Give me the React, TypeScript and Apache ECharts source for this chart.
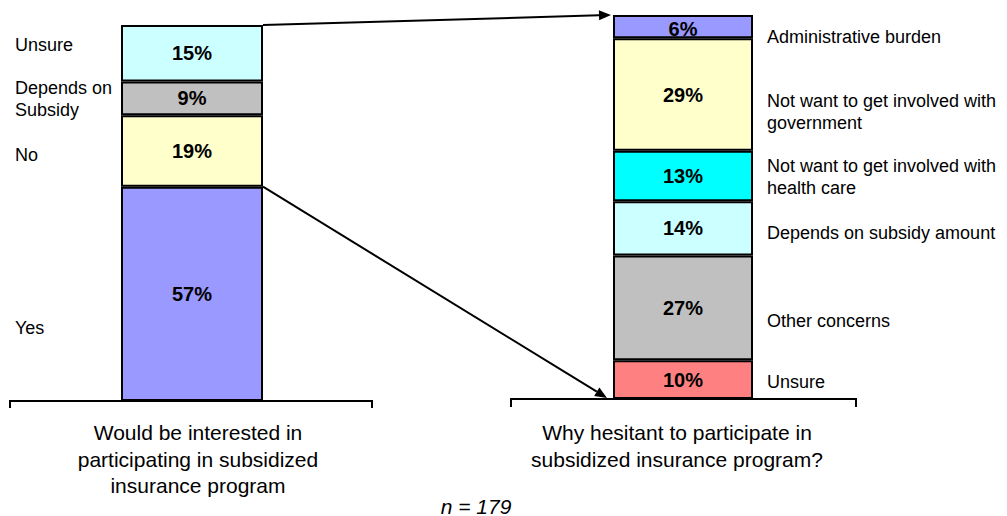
import React, { useEffect, useRef } from "react";
import * as echarts from "echarts";

// Left bar (bottom → top)
const leftNames = ["Yes", "No", "Depends on Subsidy", "Unsure"];
const leftValues = [57, 19, 9, 15];
const leftColors = ["#9999FF", "#FFFFCC", "#C0C0C0", "#CCFFFF"];

// Right bar (bottom → top)
const rightNames = [
  "Unsure",
  "Other concerns",
  "Depends on subsidy amount",
  "Not want to get involved with\nhealth care",
  "Not want to get involved with\ngovernment",
  "Administrative burden",
];
const rightValues = [10, 27, 14, 13, 29, 6];
const rightColors = ["#FF8080", "#C0C0C0", "#CCFFFF", "#00FFFF", "#FFFFCC", "#9999FF"];

const leftTitle = "Would be interested in\nparticipating in subsidized\ninsurance program";
const rightTitle = "Why hesitant to participate in\nsubsidized insurance program?";
const noteText = "n = 179";

const FONT = "Liberation Sans, Arial, Helvetica, sans-serif";

export default function App() {
  const ref = useRef<HTMLDivElement>(null);
  useEffect(() => {
    if (!ref.current) return;
    const chart = echarts.init(ref.current, undefined, { renderer: "svg" });
    const G0 = { left: 121, top: 25, width: 142, height: 376 };
    const G1 = { left: 613, top: 15, width: 140, height: 384 };
    const leftTotal = leftValues.reduce((a, b) => a + b, 0);
    const rightTotal = rightValues.reduce((a, b) => a + b, 0);

    const labelStyle = {
      show: true,
      position: "inside",
      formatter: "{c}%",
      fontFamily: FONT,
      fontWeight: "bold",
      fontSize: 20,
      color: "#000",
    };

    const series: any[] = [];
    leftValues.forEach((v, i) => {
      series.push({
        type: "bar",
        name: leftNames[i],
        stack: "L",
        xAxisIndex: 0,
        yAxisIndex: 0,
        barWidth: "100%",
        data: [v],
        itemStyle: { color: leftColors[i], borderColor: "#000", borderWidth: 2 },
        label: labelStyle,
      });
    });
    rightValues.forEach((v, i) => {
      series.push({
        type: "bar",
        name: rightNames[i],
        stack: "R",
        xAxisIndex: 1,
        yAxisIndex: 1,
        barWidth: "100%",
        data: [v],
        itemStyle: { color: rightColors[i], borderColor: "#000", borderWidth: 2 },
        label: i === rightValues.length - 1 ? { ...labelStyle, offset: [0, 2] } : labelStyle,
      });
    });

    chart.setOption({
      animation: false,
      grid: [G0, G1],
      xAxis: [
        { type: "category", data: ["L"], gridIndex: 0, show: false },
        { type: "category", data: ["R"], gridIndex: 1, show: false },
      ],
      yAxis: [
        { type: "value", min: 0, max: leftTotal, gridIndex: 0, show: false },
        { type: "value", min: 0, max: rightTotal, gridIndex: 1, show: false },
      ],
      series,
    });

    // annotations
    const yL = (v: number) => chart.convertToPixel({ yAxisIndex: 0 }, v) as number;
    const yR = (v: number) => chart.convertToPixel({ yAxisIndex: 1 }, v) as number;
    const lx = G0.left + G0.width;
    const rx = G1.left - 5;

    const arrow = (x1: number, y1: number, x2: number, y2: number) => {
      const dx = x2 - x1, dy = y2 - y1;
      const len = Math.sqrt(dx * dx + dy * dy);
      const ux = dx / len, uy = dy / len;
      const hl = 12, hw = 5;
      const bx = x2 - ux * hl, by = y2 - uy * hl;
      return [
        { type: "line", shape: { x1, y1, x2: bx, y2: by }, style: { stroke: "#000", lineWidth: 2 } },
        {
          type: "polygon",
          shape: { points: [[x2, y2], [bx - uy * hw, by + ux * hw], [bx + uy * hw, by - ux * hw]] },
          style: { fill: "#000" },
        },
      ];
    };

    const txt = (text: string, x: number, y: number, size: number, align = "left", extra: any = {}) => ({
      type: "text",
      style: {
        text,
        x,
        y,
        fill: "#000",
        font: `${extra.italic ? "italic " : ""}${size}px ${FONT}`,
        textAlign: align,
        textVerticalAlign: "middle",
        lineHeight: extra.lh || size + 4,
      },
    });

    const leftLabelY = [328, 155, 99, 45];
    const rightLabelY = [382, 321, 233, 177, 112, 37];

    const graphic: any[] = [
      { type: "polyline", shape: { points: [[10, 408], [10, 401], [372, 401], [372, 408]] }, style: { stroke: "#000", lineWidth: 2, fill: null } },
      { type: "polyline", shape: { points: [[511, 407], [511, 399], [856, 399], [856, 407]] }, style: { stroke: "#000", lineWidth: 2, fill: null } },
      ...arrow(lx, yL(leftTotal), rx + 3, yR(rightTotal)),
      ...arrow(lx, yL(leftValues[0]), G1.left - 6, yR(0) - 1),
      ...leftNames.map((n, i) => txt(n.replace("on Subsidy", "on\nSubsidy"), 15, leftLabelY[i], 18, "left", { lh: 22 })),
      ...rightNames.map((n, i) => txt(n, 767, rightLabelY[i], 18, "left", { lh: 22.5 })),
      txt(leftTitle, 198, 459, 21, "center", { lh: 26.5 }),
      txt(rightTitle, 677, 446, 21, "center", { lh: 27 }),
      txt(noteText, 476, 506, 21, "center", { italic: true }),
    ];
    chart.setOption({ graphic });

    return () => chart.dispose();
  }, []);
  return <div ref={ref} style={{ position: "fixed", left: 0, top: 0, width: 1007, height: 516, background: "#fff" }} />;
}
